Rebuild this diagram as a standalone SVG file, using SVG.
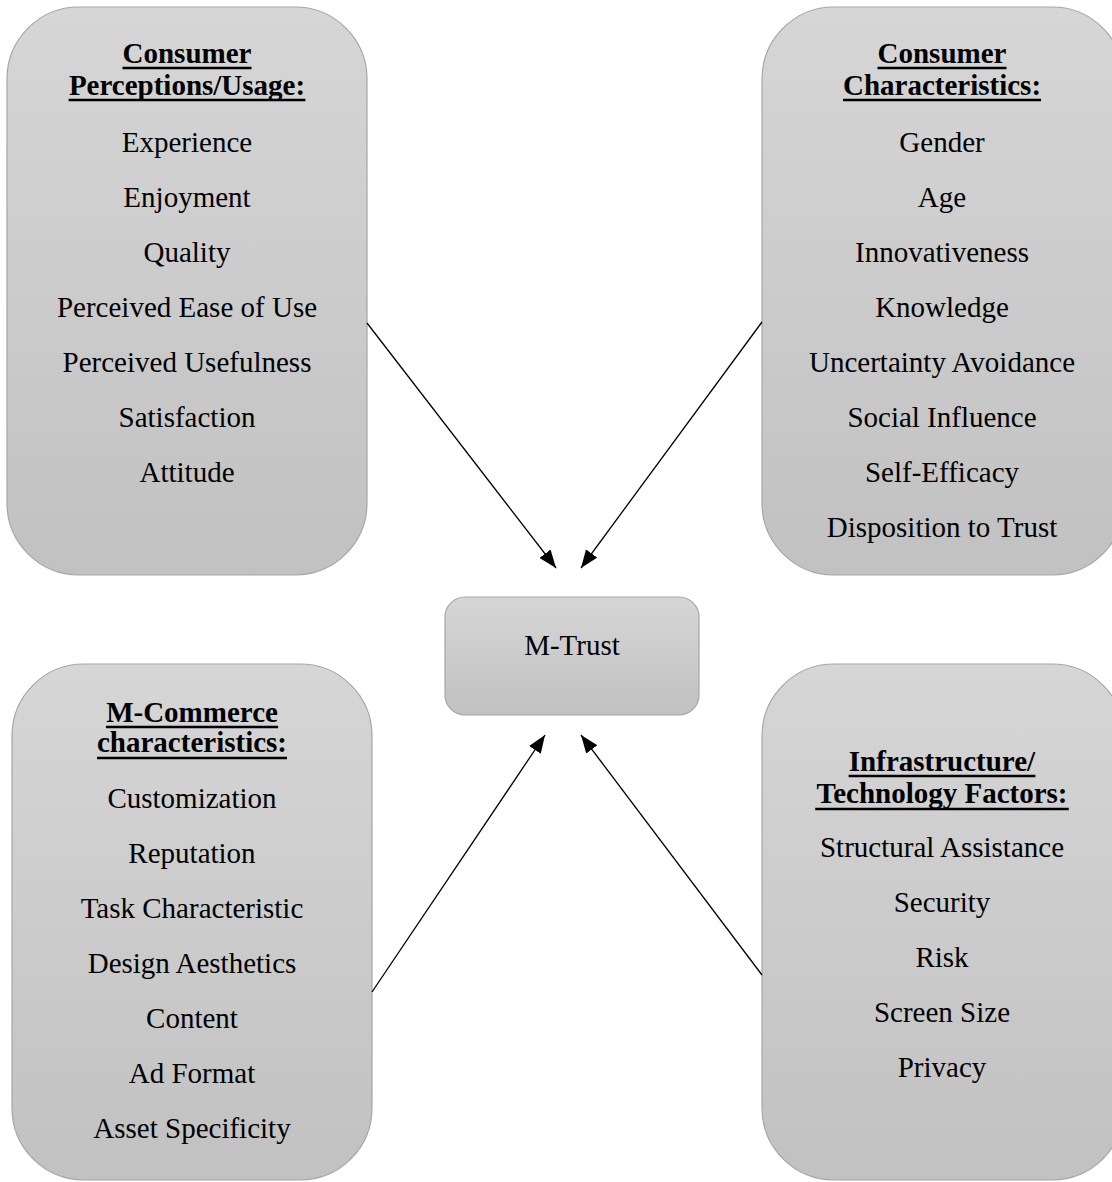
<svg xmlns="http://www.w3.org/2000/svg" width="1112" height="1182" viewBox="0 0 1112 1182">
  <defs>
    <linearGradient id="boxFill" x1="0" y1="0" x2="0" y2="1">
      <stop offset="0" stop-color="#d6d6d6"/>
      <stop offset="1" stop-color="#c1c1c1"/>
    </linearGradient>
    <marker id="arrowHead" viewBox="0 0 18 14" refX="18" refY="7" markerWidth="18" markerHeight="14" markerUnits="userSpaceOnUse" orient="auto">
      <path d="M0,0 L18,7 L0,14 Z" fill="#000"/>
    </marker>
    <style>
      .box { fill: url(#boxFill); stroke: #a6a6a6; stroke-width: 1.2; }
      .head { font-family: "Liberation Serif", "Times New Roman", serif; font-size: 29px; font-weight: bold; fill: #000; text-anchor: middle; }
      .item { font-family: "Liberation Serif", "Times New Roman", serif; font-size: 29px; fill: #000; text-anchor: middle; }
      .uline { stroke: #000; stroke-width: 2.4; }
      .conn { stroke: #000; stroke-width: 1.3; fill: none; marker-end: url(#arrowHead); }
    </style>
  </defs>

  <rect width="1112" height="1182" fill="#fff"/>

  <!-- Consumer perceptions / usage -->
  <g id="consumer-perceptions">
    <rect class="box" x="7" y="7" width="360" height="568" rx="72" ry="72"/>
    <text class="head" x="187" y="63">Consumer</text>
    <line class="uline" x1="122.5" y1="68" x2="251.5" y2="68"/>
    <text class="head" x="187" y="95">Perceptions/Usage:</text>
    <line class="uline" x1="68.6" y1="100" x2="305.4" y2="100"/>
    <text class="item" x="187" y="152">Experience</text>
    <text class="item" x="187" y="207">Enjoyment</text>
    <text class="item" x="187" y="262">Quality</text>
    <text class="item" x="187" y="317">Perceived Ease of Use</text>
    <text class="item" x="187" y="372">Perceived Usefulness</text>
    <text class="item" x="187" y="427">Satisfaction</text>
    <text class="item" x="187" y="482">Attitude</text>
  </g>

  <!-- Consumer characteristics -->
  <g id="consumer-characteristics">
    <rect class="box" x="762" y="7" width="362" height="568" rx="72" ry="72"/>
    <text class="head" x="942" y="63">Consumer</text>
    <line class="uline" x1="877.5" y1="68" x2="1006.5" y2="68"/>
    <text class="head" x="942" y="95">Characteristics:</text>
    <line class="uline" x1="843" y1="100" x2="1041" y2="100"/>
    <text class="item" x="942" y="152">Gender</text>
    <text class="item" x="942" y="207">Age</text>
    <text class="item" x="942" y="262">Innovativeness</text>
    <text class="item" x="942" y="317">Knowledge</text>
    <text class="item" x="942" y="372">Uncertainty Avoidance</text>
    <text class="item" x="942" y="427">Social Influence</text>
    <text class="item" x="942" y="482">Self-Efficacy</text>
    <text class="item" x="942" y="537">Disposition to Trust</text>
  </g>

  <!-- Central node -->
  <g id="m-trust">
    <rect class="box" x="445" y="597" width="254" height="118" rx="20" ry="20"/>
    <text class="item" x="572" y="655">M-Trust</text>
  </g>

  <!-- M-Commerce characteristics -->
  <g id="m-commerce-characteristics">
    <rect class="box" x="12" y="664" width="360" height="516" rx="72" ry="72"/>
    <text class="head" x="192" y="722">M-Commerce</text>
    <line class="uline" x1="105.9" y1="727" x2="278.1" y2="727"/>
    <text class="head" x="192" y="752">characteristics:</text>
    <line class="uline" x1="97" y1="758" x2="287" y2="758"/>
    <text class="item" x="192" y="808">Customization</text>
    <text class="item" x="192" y="863">Reputation</text>
    <text class="item" x="192" y="918">Task Characteristic</text>
    <text class="item" x="192" y="973">Design Aesthetics</text>
    <text class="item" x="192" y="1028">Content</text>
    <text class="item" x="192" y="1083">Ad Format</text>
    <text class="item" x="192" y="1138">Asset Specificity</text>
  </g>

  <!-- Infrastructure / technology factors -->
  <g id="infrastructure-technology">
    <rect class="box" x="762" y="664" width="362" height="516" rx="72" ry="72"/>
    <text class="head" x="942" y="771">Infrastructure/</text>
    <line class="uline" x1="848.6" y1="776" x2="1035.4" y2="776"/>
    <text class="head" x="942" y="803">Technology Factors:</text>
    <line class="uline" x1="815.2" y1="809" x2="1068.8" y2="809"/>
    <text class="item" x="942" y="857">Structural Assistance</text>
    <text class="item" x="942" y="912">Security</text>
    <text class="item" x="942" y="967">Risk</text>
    <text class="item" x="942" y="1022">Screen Size</text>
    <text class="item" x="942" y="1077">Privacy</text>
  </g>

  <!-- Connectors into M-Trust -->
  <g id="connectors">
    <line class="conn" x1="367" y1="323" x2="556" y2="568"/>
    <line class="conn" x1="762" y1="322" x2="581" y2="568"/>
    <line class="conn" x1="372" y1="992" x2="545" y2="735"/>
    <line class="conn" x1="762" y1="975" x2="581" y2="735"/>
  </g>
</svg>
